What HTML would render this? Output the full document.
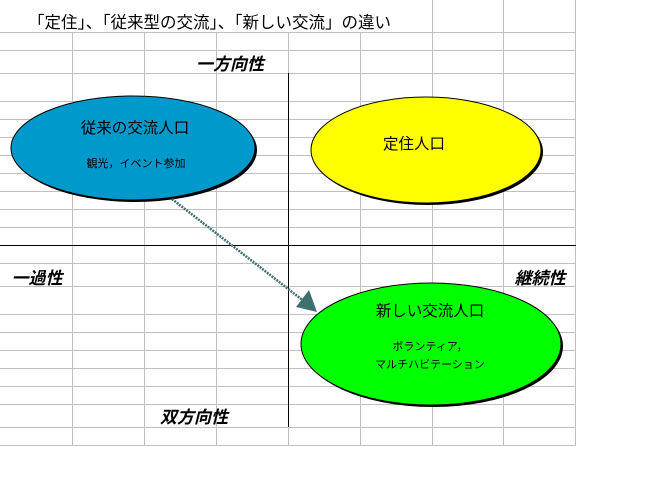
<!DOCTYPE html>
<html><head><meta charset="utf-8"><style>
body{margin:0;background:#fff;}
svg text{font-family:"Liberation Sans","Noto Sans CJK JP",sans-serif;}
</style></head><body>
<svg width="669" height="472" xmlns="http://www.w3.org/2000/svg">
<g stroke="#c0c0c0" stroke-width="1">
<line x1="72.5" y1="32" x2="72.5" y2="445"/><line x1="144.5" y1="32" x2="144.5" y2="445"/><line x1="216.5" y1="32" x2="216.5" y2="445"/><line x1="288.5" y1="32" x2="288.5" y2="445"/><line x1="360.5" y1="32" x2="360.5" y2="445"/><line x1="432.5" y1="0" x2="432.5" y2="445"/><line x1="503.5" y1="0" x2="503.5" y2="445"/><line x1="575.5" y1="0" x2="575.5" y2="445"/>
<line x1="0" y1="32.5" x2="576" y2="32.5"/><line x1="0" y1="50.5" x2="576" y2="50.5"/><line x1="0" y1="73.5" x2="576" y2="73.5"/><line x1="0" y1="101.5" x2="576" y2="101.5"/><line x1="0" y1="119.5" x2="576" y2="119.5"/><line x1="0" y1="137.5" x2="576" y2="137.5"/><line x1="0" y1="155.5" x2="576" y2="155.5"/><line x1="0" y1="173.5" x2="576" y2="173.5"/><line x1="0" y1="191.5" x2="576" y2="191.5"/><line x1="0" y1="209.5" x2="576" y2="209.5"/><line x1="0" y1="227.5" x2="576" y2="227.5"/><line x1="0" y1="263.5" x2="576" y2="263.5"/><line x1="0" y1="286.5" x2="576" y2="286.5"/><line x1="0" y1="314.5" x2="576" y2="314.5"/><line x1="0" y1="332.5" x2="576" y2="332.5"/><line x1="0" y1="350.5" x2="576" y2="350.5"/><line x1="0" y1="368.5" x2="576" y2="368.5"/><line x1="0" y1="386.5" x2="576" y2="386.5"/><line x1="0" y1="404.5" x2="576" y2="404.5"/><line x1="0" y1="427.5" x2="576" y2="427.5"/><line x1="0" y1="445.5" x2="576" y2="445.5"/>
</g>
<line x1="0" y1="245.5" x2="576" y2="245.5" stroke="#000"/>
<line x1="288.5" y1="73" x2="288.5" y2="427" stroke="#000"/>
<text x="28" y="28" font-size="16.5">「定住」、「従来型の交流」、「新しい交流」の違い</text>
<text x="230" y="70" font-size="17" font-weight="bold" font-style="italic" text-anchor="middle">一方向性</text>
<text x="37" y="284" font-size="17" font-weight="bold" font-style="italic" text-anchor="middle">一過性</text>
<text x="540" y="284" font-size="17" font-weight="bold" font-style="italic" text-anchor="middle">継続性</text>
<text x="194" y="423" font-size="17" font-weight="bold" font-style="italic" text-anchor="middle">双方向性</text>
<ellipse cx="135" cy="150" rx="122" ry="52" fill="#000"/>
<ellipse cx="133" cy="148" rx="122" ry="52" fill="#0099cc" stroke="#000"/>
<ellipse cx="428" cy="152" rx="115" ry="53" fill="#000"/>
<ellipse cx="426" cy="150" rx="115" ry="53" fill="#ffff00" stroke="#000"/>
<ellipse cx="433" cy="346" rx="130" ry="61" fill="#000"/>
<ellipse cx="431" cy="344" rx="130" ry="61" fill="#00ff00" stroke="#000"/>
<line x1="172" y1="199" x2="305" y2="302" stroke="#3f6f6f" stroke-width="2.5" stroke-dasharray="2 1"/>
<polygon points="317,312 296,307 309,290" fill="#3f6f6f"/>
<text x="135" y="133" font-size="15.5" text-anchor="middle">従来の交流人口</text>
<text x="136" y="167" font-size="11" text-anchor="middle">観光，イベント参加</text>
<text x="414" y="149" font-size="15.5" text-anchor="middle">定住人口</text>
<text x="430" y="316" font-size="15.5" text-anchor="middle">新しい交流人口</text>
<text x="430" y="350" font-size="11" text-anchor="middle">ボランティア，</text>
<text x="430" y="368" font-size="11" text-anchor="middle">マルチハビテーション</text>
</svg>
</body></html>
